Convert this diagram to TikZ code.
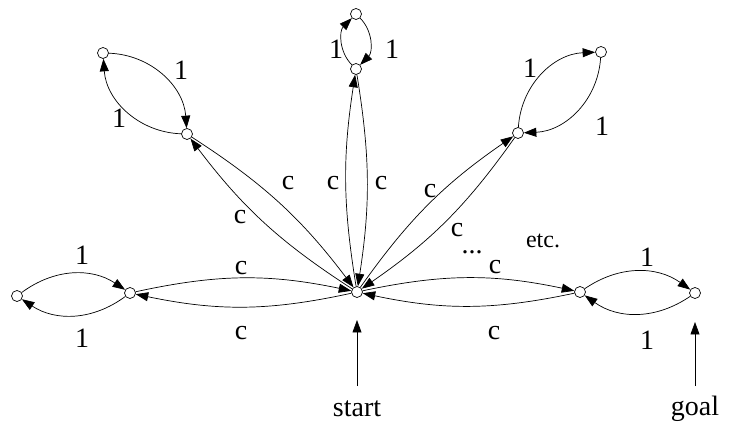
\documentclass[tikz,border=0pt]{standalone}
\usepackage{fontspec}
\setmainfont{Liberation Serif}
\usetikzlibrary{arrows.meta}
\begin{document}
\begin{tikzpicture}[x=1pt,y=1pt,
 st/.style={circle,draw,fill=white,inner sep=0pt,minimum size=11pt,line width=0.7pt},
 ed/.style={-{Triangle[length=12.5pt,width=9pt]},line width=0.7pt},
 lb/.style={font=\fontsize{28}{30}\selectfont,inner sep=0pt},
 sm/.style={font=\fontsize{24}{26}\selectfont,inner sep=0pt}]
\useasboundingbox (0,0) rectangle (731,-430);
% states
\node[st] (S)   at (357,-292) {};
\node[st] (L1)  at (130,-293) {};
\node[st] (L2)  at (17,-296) {};
\node[st] (R1)  at (580,-292) {};
\node[st] (R2)  at (695,-293) {};
\node[st] (UL1) at (187,-134) {};
\node[st] (UL2) at (103,-53) {};
\node[st] (T1)  at (356,-69) {};
\node[st] (T2)  at (356,-14) {};
\node[st] (UR1) at (518,-133) {};
\node[st] (UR2) at (601,-52) {};
% c edges
\draw[ed] (L1) to[bend left=12] (S);
\draw[ed] (S) to[bend left=12] (L1);
\draw[ed] (S) to[bend left=12] (R1);
\draw[ed] (R1) to[bend left=12] (S);
\draw[ed] (S) to[bend left=10] (UL1);
\draw[ed] (UL1) to[bend left=10] (S);
\draw[ed] (S) to[bend left=9] (T1);
\draw[ed] (T1) to[bend left=9] (S);
\draw[ed] (S) to[bend left=10] (UR1);
\draw[ed] (UR1) to[bend left=10] (S);
% 1 edges
\draw[ed] (L2) to[bend left=35] (L1);
\draw[ed] (L1) to[bend left=35] (L2);
\draw[ed] (R1) to[bend left=35] (R2);
\draw[ed] (R2) to[bend left=35] (R1);
\draw[ed] (UL2) to[bend left=42] (UL1);
\draw[ed] (UL1) to[bend left=42] (UL2);
\draw[ed] (T1) to[bend left=45] (T2);
\draw[ed] (T2) to[bend left=45] (T1);
\draw[ed] (UR1) to[bend left=42] (UR2);
\draw[ed] (UR2) to[bend left=42] (UR1);
% labels 1
\node[lb] (a1) at (82,-255) {1};
\node[lb] (a2) at (82,-338) {1};
\node[lb] (a3) at (119,-118) {1};
\node[lb] (a4) at (181,-70) {1};
\node[lb] (a5) at (336,-49) {1};
\node[lb] (a6) at (392,-49) {1};
\node[lb] (a7) at (530,-68) {1};
\node[lb] (a8) at (602,-126) {1};
\node[lb] (a9) at (647,-257) {1};
\node[lb] (a10) at (647,-340) {1};
% labels c
\node[lb] (c1) at (241,-268) {c};
\node[lb] (c2) at (241,-333) {c};
\node[lb] (c3) at (240,-217) {c};
\node[lb] (c4) at (288,-183) {c};
\node[lb] (c5) at (333,-183) {c};
\node[lb] (c6) at (381,-183) {c};
\node[lb] (c7) at (430,-191) {c};
\node[lb] (c8) at (457,-230) {c};
\node[lb] (c9) at (495,-267) {c};
\node[lb] (c10) at (494,-333) {c};
\node[lb] (dots) at (472,-252) {...};
\node[sm] (etc) at (543,-241) {etc.};
% start / goal
\node[lb] (start) at (357,-409) {start};
\node[lb] (goal) at (695,-409) {goal};
\coordinate (stip) at (357,-320);
\coordinate (gtip) at (695,-322);
\coordinate (sbase) at (357,-386);
\coordinate (gbase) at (695,-386);
\draw[ed] (sbase) -- (stip);
\draw[ed] (gbase) -- (gtip);
\end{tikzpicture}
\end{document}
